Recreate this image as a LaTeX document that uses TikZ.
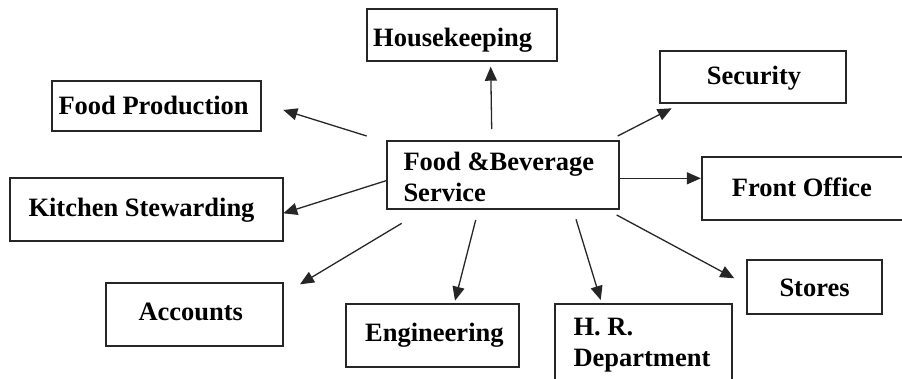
\documentclass[tikz,border=0pt]{standalone}
\usepackage{fontspec}
\setmainfont{Liberation Serif}
\usetikzlibrary{arrows.meta}
\begin{document}
\begin{tikzpicture}[x=1pt,y=-1pt,
  box/.style={draw=black!85,line width=1.7pt,inner sep=0pt,rectangle},
  lbl/.style={anchor=base west,inner sep=0pt,font=\fontsize{26.5}{31.7}\selectfont\bfseries,align=left},
  conn/.style={draw=black!85,line width=1.3pt,-{Triangle[length=14pt,width=12pt]}}]
\useasboundingbox (0,0) rectangle (902,378);
\clip (0,0) rectangle (902,378);
% boxes
\node[box,minimum width=190.6pt,minimum height=51.7pt] (hk) at (462,35.15) {};
\node[box,minimum width=209pt,minimum height=49.7pt] (fp) at (156.2,105.85) {};
\node[box,minimum width=185.7pt,minimum height=51.7pt] (sec) at (752.85,76.85) {};
\node[box,minimum width=231.4pt,minimum height=68.3pt] (fb) at (503,175.15) {};
\node[box,minimum width=273.3pt,minimum height=62.7pt] (ks) at (146.65,209.65) {};
\node[box,minimum width=203.3pt,minimum height=63.3pt] (fo) at (803.35,188.35) {};
\node[box,minimum width=177.3pt,minimum height=63.3pt] (acc) at (194.65,314.35) {};
\node[box,minimum width=173.3pt,minimum height=63pt] (eng) at (432.35,335.8) {};
\node[box,minimum width=177pt,minimum height=90.7pt] (hr) at (643.8,349.65) {};
\node[box,minimum width=135.6pt,minimum height=54.3pt] (st) at (814.5,287.15) {};
% labels
\node[lbl] (thk) at (373,46) {Housekeeping};
\node[lbl] (tfp) at (58.3,114) {Food Production};
\node[lbl] (tsec) at (706.7,84) {Security};
\node[lbl] (tfb) at (403.3,201.7) {Food \&Beverage\\Service};
\node[lbl] (tks) at (28.3,216) {Kitchen Stewarding};
\node[lbl] (tfo) at (731.7,196) {Front Office};
\node[lbl] (tacc) at (138.3,320) {Accounts};
\node[lbl] (teng) at (365,341.7) {Engineering};
\node[lbl] (thr) at (573.3,366.7) {H. R.\\Department};
\node[lbl] (tst) at (779.3,296) {Stores};
% connector end points
\coordinate (s1) at (366.7,136); \coordinate (e1) at (283.3,110);
\coordinate (s2) at (491.7,129); \coordinate (e2) at (490.7,66.7);
\coordinate (s3) at (617.7,136); \coordinate (e3) at (671.7,108.3);
\coordinate (s5) at (387.3,180.3); \coordinate (e5) at (283.3,213.3);
\coordinate (s6) at (401.7,223.3); \coordinate (e6) at (300,284.3);
\coordinate (s7) at (475.7,220); \coordinate (e7) at (455,300.7);
\coordinate (s8) at (576,219.3); \coordinate (e8) at (600.7,300);
\coordinate (s9) at (616.7,215); \coordinate (e9) at (734.3,278.3);
% connectors
\draw[conn] (s1) -- (e1);
\draw[conn] (s2) -- (e2);
\draw[conn] (s3) -- (e3);
\draw[conn] (fb.east |- 0,178.3) -- (fo.west |- 0,178.3);
\draw[conn] (s5) -- (e5);
\draw[conn] (s6) -- (e6);
\draw[conn] (s7) -- (e7);
\draw[conn] (s8) -- (e8);
\draw[conn] (s9) -- (e9);
\end{tikzpicture}
\end{document}
